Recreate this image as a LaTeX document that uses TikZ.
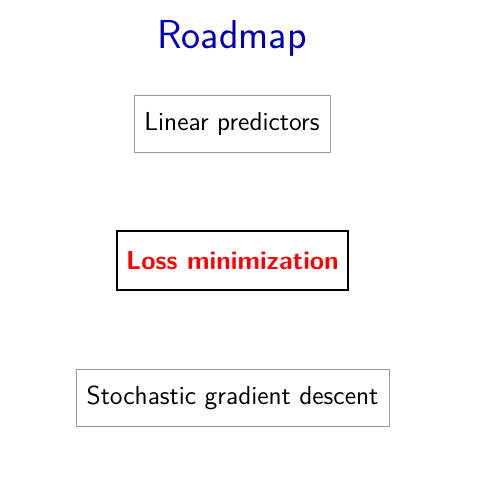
\documentclass[tikz,border=0pt]{standalone}
\renewcommand{\familydefault}{\sfdefault}

\tikzset{
  topic/.style={draw=gray!80,thin,minimum height=57*0.02cm,inner xsep=6pt,font=\fontsize{14.8}{18}\selectfont},
  current/.style={topic,draw=black,line width=1.4pt,text=red,inner xsep=5.3pt,minimum height=59*0.02cm,font=\fontsize{14.8}{18}\selectfont\bfseries}
}

\begin{document}
\begin{tikzpicture}[x=0.02cm,y=-0.02cm]
        % Frame
        \useasboundingbox (0,0) rectangle (495,503);

        % Title
        \node[text=blue!70!black,font=\fontsize{23}{27}\selectfont] (title) at (232,38) {Roadmap};

        % Topics
        \node[topic] (linear) at (232,123.5) {Linear predictors};
        \node[current] (loss) at (232.5,260.5) {Loss minimization};
        \node[topic] (sgd) at (232.5,398) {Stochastic gradient descent};
\end{tikzpicture}
\end{document}
